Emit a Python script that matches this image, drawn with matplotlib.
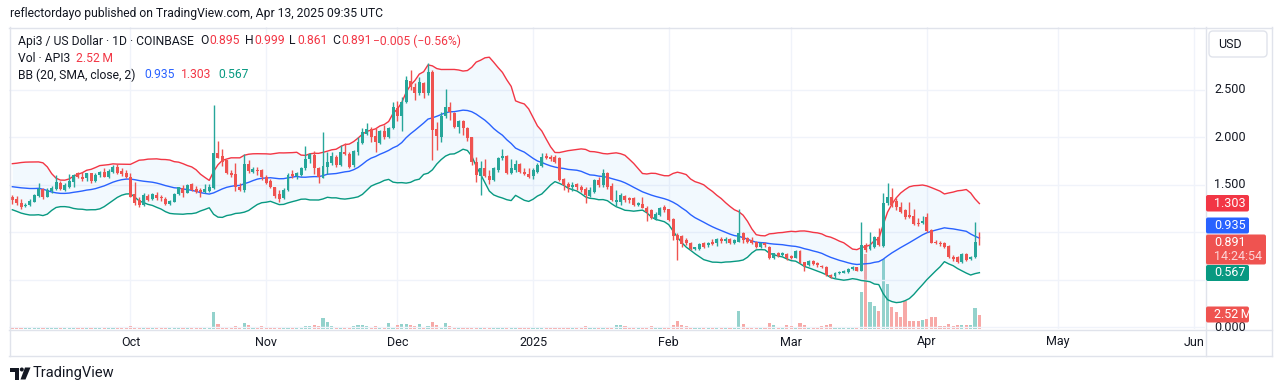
import numpy as np
import pandas as pd
import matplotlib
matplotlib.use('Agg')
import matplotlib.pyplot as plt
import matplotlib.dates as mdates
from matplotlib.transforms import Affine2D, blended_transform_factory
from matplotlib.patches import FancyBboxPatch, Rectangle, Polygon, Circle
from matplotlib.lines import Line2D

plt.rcParams['font.family'] = ['Roboto', 'DejaVu Sans']

# ---------------- data ----------------
start_date = '2024-09-04'

opens = [1.372,1.347,1.308,1.274,1.281,1.319,1.379,1.449,1.372,1.435,1.456,1.519,1.442,1.477,1.529,1.618,1.576,1.572,1.618,1.537,
         1.600,1.635,1.582,1.635,1.687,1.646,1.625,1.576,1.400,1.337,1.284,1.379,1.344,1.389,1.372,1.344,1.292,1.319,1.400,1.460,
         1.414,1.502,1.456,1.442,1.425,1.435,1.460,1.835,1.800,1.758,1.618,1.607,1.477,1.442,1.716,1.635,1.653,1.653,1.582,1.537,
         1.471,1.397,1.354,1.442,1.607,1.593,1.600,1.670,1.768,1.811,1.670,1.572,1.687,1.723,1.793,1.705,1.845,1.818,1.705,1.845,
         1.934,2.032,2.084,2.014,1.934,2.063,2.003,2.098,2.308,2.224,2.372,2.589,2.529,2.460,2.565,2.460,2.687,2.084,2.003,2.224,
         2.319,2.249,2.108,2.168,2.098,2.003,1.740,1.593,1.670,1.593,1.547,1.653,1.782,1.800,1.618,1.653,1.713,1.628,1.614,1.593,
         1.635,1.698,1.800,1.793,1.786,1.776,1.555,1.502,1.477,1.502,1.477,1.449,1.379,1.425,1.547,1.495,1.625,1.484,1.319,1.319,
         1.382,1.354,1.354,1.288,1.295,1.256,1.232,1.134,1.179,1.260,1.239,1.134,0.968,0.958,0.916,0.881,0.818,0.818,0.881,0.863,
         0.898,0.881,0.923,0.908,0.923,0.881,0.898,0.993,0.934,0.916,0.898,0.839,0.887,0.845,0.723,0.776,0.758,0.765,0.747,0.729,
         0.804,0.681,0.653,0.695,0.670,0.642,0.635,0.547,0.537,0.565,0.572,0.579,0.607,0.628,0.593,0.863,0.818,0.839,0.951,0.853,
         1.302,1.372,1.329,1.266,1.232,1.179,1.168,1.098,1.091,1.161,1.021,0.898,0.887,0.887,0.853,0.740,0.734,0.687,0.765,0.713,
         0.734,0.895]

highs = [1.389,1.379,1.347,1.302,1.347,1.400,1.513,1.460,1.460,1.484,1.597,1.537,1.513,1.611,1.611,1.635,1.635,1.625,1.625,1.625,
         1.646,1.670,1.660,1.705,1.721,1.670,1.653,1.618,1.529,1.365,1.411,1.400,1.411,1.425,1.389,1.368,1.337,1.411,1.477,1.495,
         1.505,1.513,1.484,1.460,1.502,1.502,2.337,1.958,1.871,1.758,1.653,1.729,1.513,1.818,1.758,1.687,1.687,1.660,1.600,1.558,
         1.477,1.442,1.463,1.618,1.653,1.635,1.687,1.909,1.828,1.853,1.680,2.049,1.845,1.845,1.811,1.916,1.934,1.845,1.863,2.003,
         2.098,2.144,2.108,2.098,2.074,2.126,2.108,2.372,2.379,2.424,2.645,2.705,2.565,2.635,2.582,2.776,2.705,2.161,2.266,2.505,
         2.365,2.266,2.179,2.179,2.108,2.003,1.793,1.747,1.768,1.653,1.687,1.793,1.874,1.811,1.768,1.758,1.723,1.677,1.677,1.670,
         1.723,1.828,1.828,1.811,1.811,1.793,1.565,1.529,1.529,1.519,1.495,1.477,1.477,1.555,1.576,1.660,1.635,1.519,1.442,1.407,
         1.389,1.372,1.372,1.319,1.372,1.274,1.239,1.214,1.260,1.284,1.246,1.144,0.986,0.968,0.934,0.898,0.845,0.881,0.898,0.898,
         0.923,0.934,0.944,0.944,0.934,0.923,1.239,1.003,0.944,0.951,0.909,0.898,0.898,0.853,0.782,0.789,0.793,0.776,0.758,0.811,
         0.811,0.688,0.705,0.705,0.684,0.656,0.642,0.558,0.582,0.593,0.600,0.621,0.642,0.635,1.108,0.881,1.003,0.958,1.039,1.407,
         1.513,1.460,1.354,1.319,1.239,1.319,1.239,1.144,1.168,1.197,1.028,0.916,0.909,0.898,0.863,0.758,0.747,0.776,0.776,0.747,
         1.108,0.999]

lows = [1.295,1.284,1.239,1.260,1.274,1.313,1.365,1.347,1.365,1.414,1.442,1.442,1.435,1.460,1.477,1.565,1.540,1.537,1.513,1.523,
        1.576,1.576,1.565,1.625,1.611,1.589,1.565,1.365,1.284,1.260,1.274,1.326,1.334,1.337,1.329,1.284,1.284,1.313,1.389,1.365,
        1.407,1.432,1.411,1.365,1.407,1.425,1.449,1.776,1.695,1.611,1.582,1.432,1.432,1.425,1.625,1.618,1.600,1.547,1.505,1.463,
        1.354,1.313,1.344,1.432,1.565,1.558,1.589,1.653,1.723,1.607,1.513,1.565,1.607,1.705,1.687,1.698,1.811,1.677,1.687,1.811,
        1.923,2.021,1.944,1.845,1.923,1.979,1.986,2.084,2.168,2.063,2.355,2.495,2.389,2.442,2.407,2.442,1.758,1.863,1.944,2.196,
        2.179,2.092,2.039,2.021,1.958,1.705,1.529,1.389,1.582,1.502,1.537,1.635,1.758,1.607,1.607,1.635,1.618,1.600,1.565,1.558,
        1.625,1.687,1.768,1.747,1.723,1.540,1.442,1.425,1.435,1.442,1.425,1.302,1.372,1.407,1.477,1.471,1.449,1.329,1.274,1.284,
        1.319,1.308,1.274,1.274,1.249,1.119,1.134,1.126,1.168,1.214,1.119,0.916,0.705,0.845,0.863,0.811,0.811,0.811,0.828,0.839,
        0.863,0.853,0.881,0.887,0.874,0.874,0.898,0.887,0.881,0.874,0.828,0.828,0.845,0.713,0.713,0.734,0.747,0.705,0.716,0.723,
        0.671,0.593,0.642,0.649,0.632,0.618,0.537,0.513,0.513,0.555,0.565,0.568,0.600,0.586,0.589,0.793,0.811,0.828,0.853,0.845,
        1.284,1.266,1.232,1.197,1.134,1.144,1.074,1.063,1.084,1.003,0.881,0.874,0.853,0.828,0.723,0.698,0.677,0.671,0.698,0.705,
        0.723,0.861]

closes = [1.337,1.302,1.266,1.284,1.329,1.389,1.449,1.365,1.442,1.466,1.526,1.449,1.495,1.540,1.600,1.576,1.562,1.618,1.537,1.600,
          1.635,1.582,1.646,1.687,1.625,1.611,1.576,1.372,1.308,1.284,1.389,1.337,1.400,1.354,1.354,1.292,1.326,1.400,1.471,1.414,
          1.495,1.442,1.425,1.425,1.449,1.471,1.828,1.782,1.740,1.618,1.597,1.477,1.442,1.716,1.642,1.663,1.642,1.576,1.519,1.477,
          1.379,1.347,1.442,1.600,1.593,1.625,1.670,1.768,1.818,1.670,1.582,1.695,1.740,1.800,1.705,1.845,1.818,1.687,1.856,1.944,
          2.050,2.084,2.003,1.944,2.063,2.003,2.098,2.319,2.224,2.372,2.600,2.529,2.460,2.576,2.460,2.687,2.074,2.014,2.224,2.319,
          2.260,2.108,2.168,2.098,1.986,1.740,1.600,1.670,1.593,1.547,1.670,1.782,1.803,1.618,1.677,1.713,1.628,1.614,1.582,1.653,
          1.705,1.793,1.782,1.765,1.740,1.547,1.495,1.471,1.495,1.471,1.442,1.389,1.442,1.547,1.495,1.618,1.471,1.337,1.337,1.389,
          1.337,1.337,1.284,1.302,1.256,1.214,1.144,1.189,1.249,1.232,1.126,0.958,0.916,0.874,0.881,0.818,0.839,0.871,0.845,0.887,
          0.874,0.926,0.905,0.923,0.881,0.916,0.986,0.916,0.898,0.887,0.839,0.887,0.863,0.723,0.776,0.747,0.776,0.723,0.723,0.800,
          0.677,0.642,0.695,0.663,0.653,0.628,0.547,0.523,0.572,0.582,0.593,0.614,0.635,0.593,0.863,0.811,0.853,0.951,0.863,1.308,
          1.372,1.284,1.260,1.214,1.161,1.161,1.084,1.084,1.119,1.014,0.887,0.881,0.874,0.839,0.734,0.713,0.687,0.768,0.705,0.740,
          0.898,0.891]

volumes_m = [0.25,0.3,0.35,0.2,0.25,0.3,0.4,0.3,0.25,0.2,0.3,0.25,0.2,0.3,0.35,0.25,0.2,0.25,0.3,0.25,0.2,0.25,0.3,0.25,0.2,0.25,0.3,
             0.5,0.4,0.3,0.3,0.2,0.25,0.2,0.25,0.3,0.2,0.3,0.4,0.3,0.25,0.3,0.2,0.3,0.25,0.3,
             3.2,1.0,0.45,0.45,0.35,0.5,0.3,1.1,0.7,0.4,0.4,0.6,0.4,0.3,0.3,
             0.2,0.25,0.2,0.2,0.25,0.2,0.5,0.5,0.7,0.5,2.0,1.3,0.5,0.4,0.4,0.4,0.4,0.5,0.7,0.7,
             0.5,0.3,0.5,0.25,0.2,1.2,0.25,0.8,1.0,1.0,0.7,0.5,1.0,0.35,0.5,1.3,0.8,0.3,1.1,0.5,
             0.2,0.3,0.3,0.3,0.35,0.3,0.3,0.25,0.35,0.2,0.35,0.2,0.35,0.2,0.25,0.2,0.25,0.3,0.25,0.2,0.3,0.25,0.3,
             0.3,0.4,0.3,0.25,0.2,0.25,0.3,0.5,0.3,0.45,0.3,0.35,0.3,0.4,0.8,0.8,0.5,0.4,0.3,0.25,0.3,0.45,0.5,0.25,0.2,0.2,0.3,
             0.8,1.5,0.8,0.5,0.3,0.25,0.3,0.4,0.25,0.3,0.25,0.45,0.3,0.25,0.3,3.4,1.0,0.45,0.45,0.4,0.3,0.3,1.1,0.7,0.45,0.4,0.8,0.6,0.35,1.1,0.7,0.35,0.45,
             0.37,0.56,0.8,1.0,0.37,0.37,0.25,0.25,0.3,0.2,6.9,13.9,5.0,4.3,3.3,13.0,8.4,4.1,3.2,2.2,5.2,1.4,1.4,1.4,1.6,1.9,2.2,2.2,
             0.56,0.56,1.0,0.56,0.75,0.8,0.8,0.8,3.9,2.52]

# closes before the visible window (needed for the 20-day band at the left edge)
pre_closes = [1.42,1.38,1.36,1.40,1.39,1.41,1.55,1.72,1.78,1.70,1.56,1.50,1.47,1.44,1.45,1.41,1.43,1.42,1.41]

grid_prices = [0.0, 0.5, 1.0, 1.5, 2.0, 2.5]
price_tick_labels = [0.0, 1.5, 2.0, 2.5]   # 0.500 / 1.000 sit under the price labels
month_ticks = ['2024-10-01', '2024-11-01', '2024-12-01', '2025-01-01', '2025-02-01',
               '2025-03-01', '2025-04-01', '2025-05-01', '2025-06-01']
month_labels = ['Oct', 'Nov', 'Dec', '2025', 'Feb', 'Mar', 'Apr', 'May', 'Jun']
bb_last = {'basis': 0.935, 'upper': 1.303, 'lower': 0.567}
countdown = '14:24:54'

# ---------------- styling ----------------
UP = '#26A69A'
DN = '#EF5350'
RED = '#F23645'
TXT = '#131722'
GRID = '#f0f3fa'
BORDER = '#e0e3eb'

W, H = 1281, 391
fig = plt.figure(figsize=(W / 100, H / 100), dpi=100)
fig.patch.set_facecolor('white')
tpx = Affine2D().scale(1 / W, -1 / H).translate(0, 1) + fig.transFigure


def px_rect(x0, y0, x1, y1):
    return [x0 / W, 1 - y1 / H, (x1 - x0) / W, (y1 - y0) / H]


rect = px_rect(9, 27, 1205, 329)
vax = fig.add_axes(rect)
ax = fig.add_axes(rect, sharex=vax)
ax.patch.set_alpha(0)
vax.set_zorder(0)
ax.set_zorder(1)

dates = pd.date_range(start_date, periods=len(closes), freq='D')
pre_dates = pd.date_range(end=dates[0] - pd.Timedelta(days=1), periods=len(pre_closes), freq='D')
xd = mdates.date2num(dates)

o = np.array(opens)
h = np.array(highs)
l = np.array(lows)
c = np.array(closes)
v = np.array(volumes_m)
up = c >= o
cols = np.where(up, UP, DN)

x_left = mdates.date2num(pd.Timestamp(start_date)) - 0.754
x_right = mdates.date2num(pd.Timestamp(start_date)) + 272.55
mt = mdates.date2num(pd.to_datetime(month_ticks))

# grid (behind everything)
for xm in mt:
    vax.axvline(xm, color=GRID, lw=1.0, zorder=0)
for yv in grid_prices:
    ax.axhline(yv, color=GRID, lw=1.0, zorder=0)

# volume
vcols = np.where(up, '#93D2CC', '#F7A9A7')
vax.bar(xd, v, width=0.72, color=vcols, lw=0, zorder=2)
vax.set_ylim(0, 302 / (13.6 / 2.52))
vax.set_xlim(x_left, x_right)
vax.set_xticks([])
vax.set_yticks([])
for s in vax.spines.values():
    s.set_visible(False)

# Bollinger Bands (20, SMA, close, 2)
allc = pd.Series(pre_closes + closes, index=pre_dates.append(dates))
basis = allc.rolling(20).mean()
sd = allc.rolling(20).std(ddof=0)
upper = basis + 2 * sd
lower = basis - 2 * sd
xa = mdates.date2num(allc.index)
ax.fill_between(xa, lower, upper, color='#2196F3', alpha=0.055, lw=0, zorder=1)
ax.plot(xa, upper, color=RED, lw=1.0, zorder=2)
ax.plot(xa, basis, color='#2962FF', lw=1.0, zorder=2)
ax.plot(xa, lower, color='#089981', lw=1.0, zorder=2)

# candles
ax.vlines(xd, l, h, colors=cols, lw=1.0, zorder=3)
body = np.maximum(np.abs(c - o), 0.009)
ax.bar(xd, body, bottom=np.minimum(o, c), width=0.68, color=cols, lw=0, zorder=4)

ax.set_xlim(x_left, x_right)
ax.set_ylim(-0.021, 3.158)
ax.set_xticks([])
ax.set_yticks([])
for s in ax.spines.values():
    s.set_visible(False)

# ---------------- frame lines ----------------
def line_px(x0, y0, x1, y1, color=BORDER, lw=1.0):
    fig.add_artist(Line2D([x0, x1], [y0, y1], transform=tpx, color=color, lw=lw))

line_px(9, 27.5, 1272, 27.5)
line_px(9, 355.5, 1272, 355.5)
line_px(9.5, 27, 9.5, 356)
line_px(1271.5, 27, 1271.5, 356)
line_px(1205.5, 27, 1205.5, 356)
line_px(9, 329.5, 1272, 329.5)

# ---------------- texts ----------------
fig.text(10, 14, 'reflectordayo published on TradingView.com, Apr 13, 2025 09:35 UTC',
         transform=tpx, fontsize=8.75, color=TXT, va='center', ha='left')

leg = [
    (18, 41, 'Api3 / US Dollar · 1D · COINBASE', TXT),
    (200, 41, 'O', TXT), (209, 41, f'{opens[-1]:.3f}', RED),
    (245, 41, 'H', TXT), (254, 41, f'{highs[-1]:.3f}', RED),
    (289, 41, 'L', TXT), (297, 41, f'{lows[-1]:.3f}', RED),
    (332, 41, 'C', TXT), (341, 41, f'{closes[-1]:.3f}', RED),
    (373, 41, '\u22120.005 (\u22120.56%)', RED),
    (18, 58, 'Vol · API3', TXT), (76, 58, '2.52\u2009M', RED),
    (18, 75, 'BB (20, SMA, close, 2)', TXT),
    (144, 75, f"{bb_last['basis']:.3f}", '#2962FF'),
    (181, 75, f"{bb_last['upper']:.3f}", RED),
    (218, 75, f"{bb_last['lower']:.3f}", '#089981'),
]
for x, y, s, colr in leg:
    fig.text(x, y, s, transform=tpx, fontsize=8.75, color=colr, va='center', ha='left')

# month labels
bt = blended_transform_factory(ax.transData, tpx)
for xm, lab in zip(mt, month_labels):
    fig.text(xm, 342, lab, transform=bt, fontsize=9, color=TXT, ha='center', va='center')

# price scale ticks
rt = blended_transform_factory(tpx, ax.transData)
for pv in price_tick_labels:
    fig.text(1214, pv, f'{pv:.3f}', transform=rt, fontsize=9, color=TXT,
             ha='left', va='center', zorder=3)

# USD box
fig.add_artist(FancyBboxPatch((1209, 31), 58, 26, boxstyle='round,pad=0,rounding_size=4',
                              transform=tpx, fc='white', ec=BORDER, lw=1.0))
fig.text(1218, 44, 'USD', transform=tpx, fontsize=9, color=TXT, ha='left', va='center')


def price_label(y0, y1, x1, fc, lines, tcolors):
    fig.add_artist(FancyBboxPatch((1206, y0), x1 - 1206, y1 - y0,
                                  boxstyle='round,pad=0,rounding_size=2',
                                  transform=tpx, fc=fc, ec='none', zorder=5))
    n = len(lines)
    step = (y1 - y0) / n
    for k, (s, tc) in enumerate(zip(lines, tcolors)):
        fig.text(1214, y0 + step * (k + 0.5), s, transform=tpx, fontsize=9,
                 color=tc, ha='left', va='center', zorder=6)


price_label(195, 211.5, 1249, RED, [f"{bb_last['upper']:.3f}"], ['white'])
price_label(217.5, 233.5, 1249, '#2962FF', [f"{bb_last['basis']:.3f}"], ['white'])
price_label(234.5, 264.5, 1266, DN, [f'{closes[-1]:.3f}', countdown], ['white', '#FCD5D7'])
price_label(265, 281, 1249, '#089981', [f"{bb_last['lower']:.3f}"], ['white'])
price_label(306.5, 322.5, 1249, DN, ['2.52\u2009M'], ['white'])

# TradingView logo
logo = '#131722'
fig.add_artist(Rectangle((10, 367.5), 9, 4, transform=tpx, fc=logo, ec='none'))
fig.add_artist(Rectangle((15, 367.5), 4, 12, transform=tpx, fc=logo, ec='none'))
fig.add_artist(Circle((21.8, 369.5), 2.0, transform=tpx, fc=logo, ec='none'))
fig.add_artist(Polygon([(25, 367.5), (30.5, 367.5), (25.5, 379.5), (20.5, 379.5)],
                       closed=True, transform=tpx, fc=logo, ec='none'))
fig.text(33, 373.5, 'TradingView', transform=tpx, fontsize=10.5, color=TXT, ha='left', va='center')

fig.savefig('out.png', dpi=100, facecolor='white')
